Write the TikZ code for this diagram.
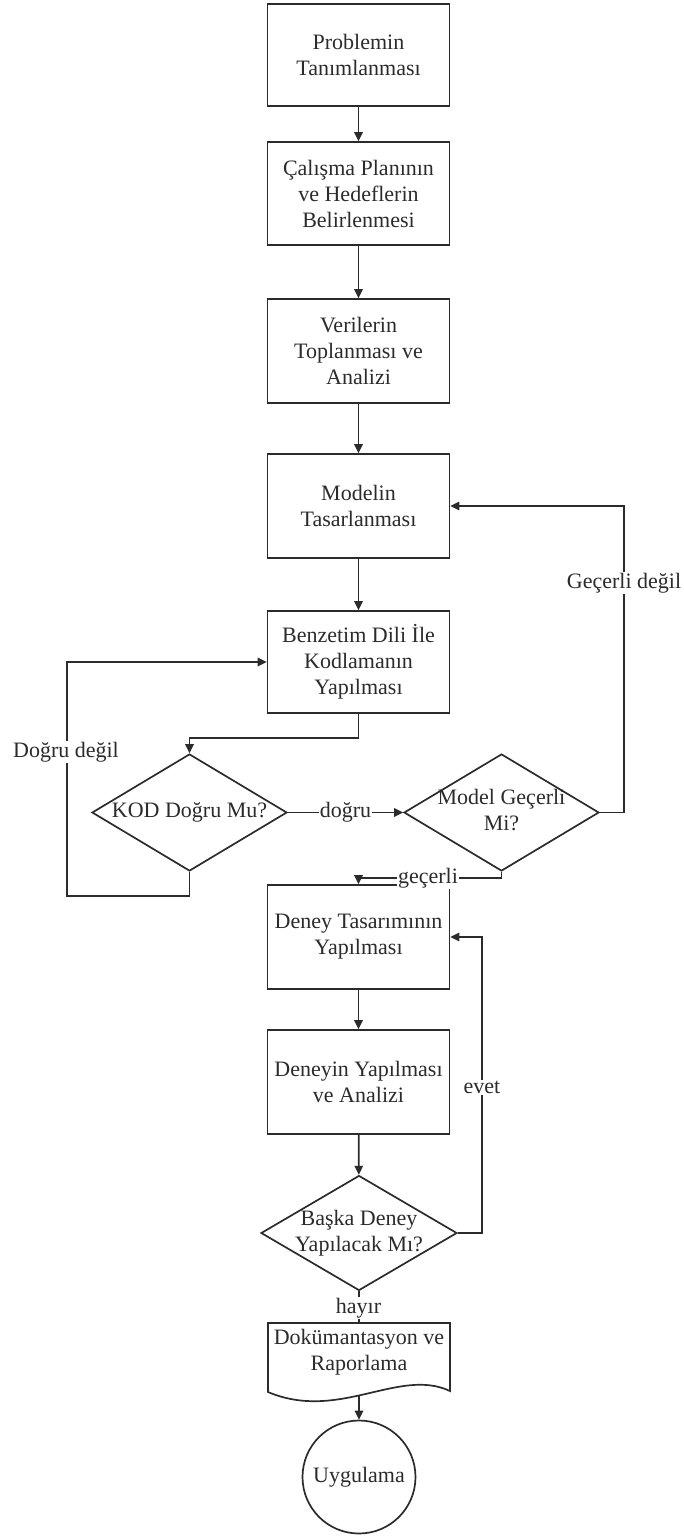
\documentclass[tikz,border=0pt]{standalone}
\usepackage{fontspec}
\setmainfont{Liberation Serif}
\usetikzlibrary{shapes.geometric,arrows.meta,calc}
\definecolor{ink}{HTML}{2B2B2B}
\begin{document}
\begin{tikzpicture}[x=0.5pt,y=-0.5pt,
  font=\fontsize{11pt}{13pt}\selectfont,
  every node/.style={text=ink},
  proc/.style={draw=ink, line width=0.85pt, rectangle, minimum width=91pt,
    minimum height=52pt, align=center, inner sep=2pt},
  decision/.style={draw=ink, line width=0.85pt, diamond, minimum width=97.5pt,
    minimum height=58.5pt, inner sep=0pt},
  term/.style={draw=ink, line width=0.85pt, circle, minimum size=56.5pt, inner sep=0pt},
  flow/.style={draw=ink, line width=0.85pt, -{Triangle[length=4.5pt,width=4.2pt]}},
  link/.style={draw=ink, line width=0.85pt},
  tag/.style={fill=white, inner sep=0.6pt},
]
\useasboundingbox (0,0) rectangle (684,1536);

% process boxes
\node[proc, minimum height=51pt] (b1) at (358.5,55)    {Problemin\\Tanımlanması};
\node[proc, minimum height=51.5pt] (b2) at (358.5,193.5) {Çalışma Planının\\ve Hedeflerin\\Belirlenmesi};
\node[proc] (b3) at (358.5,351)  {Verilerin\\Toplanması ve\\Analizi};
\node[proc] (b4) at (358.5,506)  {Modelin\\Tasarlanması};
\node[proc, minimum height=51pt] (b5) at (358.5,662)  {Benzetim Dili İle\\Kodlamanın\\Yapılması};
\node[proc] (b6) at (358.5,937)  {Deney Tasarımının\\Yapılması};
\node[proc] (b7) at (358.5,1082) {Deneyin Yapılması\\ve Analizi};

% decisions
\node[decision] (kod) at (189.5,812.5) {\makebox[0pt]{KOD Doğru Mu?}};
\node[decision] (mdl) at (501.5,812.5) {\makebox[0pt]{\begin{tabular}{@{}c@{}}Model Geçerli\\Mi?\end{tabular}}};
\node[decision, minimum width=98pt, minimum height=57.5pt] (bsk) at (359,1233)
  {\makebox[0pt]{\begin{tabular}{@{}c@{}}Başka Deney\\Yapılacak Mı?\end{tabular}}};

% document shape with wavy bottom
\node[minimum width=91pt, align=center, inner sep=0pt] (doc) at (359,1352) {Dokümantasyon ve\\Raporlama};
\draw[link] ($(doc.center)+(-91,-29)$) -- ($(doc.center)+(91,-29)$) -- ($(doc.center)+(91,39)$)
  .. controls ($(doc.center)+(40,15)$) and ($(doc.center)+(-20,70)$) .. ($(doc.center)+(-91,40)$) -- cycle;
\coordinate (doct) at ($(doc.center)+(0,-29)$);
\coordinate (docb) at ($(doc.center)+(0,43.4)$);

% terminal
\node[term] (end) at (359,1477) {Uygulama};

% main flow
\draw[flow] (b1) -- (b2);
\draw[flow] (b2) -- (b3);
\draw[flow] (b3) -- (b4);
\draw[flow] (b4) -- (b5);
\draw[flow] (b5.south) -- ++(0,24) -| (kod.north);
\draw[flow] (kod.east) -- (mdl.west);
\draw[flow] (mdl.south) -- ++(0,6) -| (b6.north);
\draw[flow] (b6) -- (b7);
\draw[flow] (b7) -- (bsk);
\draw[link] (bsk.south) -- (doct);
\draw[flow] (docb) -- (end.north);

% feedback loops
\coordinate (kl) at (67,896);
\draw[flow] (kod.south) |- (kl) |- (b5.west);
\coordinate (mr) at (624,812.5);
\draw[flow] (mdl.east) -- (mr) |- (b4.east);
\coordinate (br) at (482,1233);
\draw[flow] (bsk.east) -- (br) |- (b6.east);

% connector labels
\node[tag] (tdogru) at (345.5,812.5) {doğru};
\node[tag] (tdd) at (66,752) {Doğru değil};
\node[tag] (tgd) at (624,583) {Geçerli değil};
\node[tag] (tgec) at (428,878) {geçerli};
\node[tag] (tevet) at (482,1087) {evet};
\node[tag] (thayir) at (358.5,1308) {hayır};
\end{tikzpicture}
\end{document}
